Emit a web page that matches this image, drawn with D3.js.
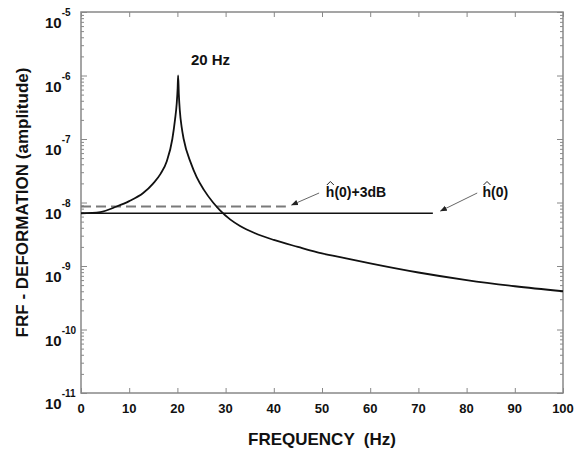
<!DOCTYPE html>
<html>
<head>
<meta charset="utf-8">
<script src="https://cdn.jsdelivr.net/npm/d3@7"></script>
<style>
  body { margin: 0; background: #fff; }
  text { font-family: "Liberation Sans", Arial, sans-serif; font-weight: bold; fill: #111; }
</style>
</head>
<body>
<svg width="582" height="449"></svg>
<script>
// FRF amplitude
let freq = [0, 4, 7.4, 10, 12.9, 15, 16.5, 17.8, 18.95, 19.5, 19.85, 20.05, 20.15, 20.3, 20.5, 20.9, 21.3, 22.8, 24, 25.5, 27.4, 28.8, 31, 33, 36, 40, 45, 50, 55, 60, 70, 80, 90, 100];
let amp = [6.76e-9, 7.08e-9, 8.65e-9, 1.05e-8, 1.41e-8, 2.0e-8, 2.82e-8, 4.47e-8, 1.0e-7, 2.0e-7, 3.55e-7, 6.3e-7, 1.0e-6, 5.0e-7, 2.82e-7, 1.51e-7, 1.0e-7, 4.17e-8, 2.51e-8, 1.58e-8, 1.0e-8, 7.59e-9, 5.37e-9, 4.27e-9, 3.31e-9, 2.57e-9, 2.0e-9, 1.58e-9, 1.32e-9, 1.1e-9, 7.9e-10, 6.0e-10, 4.8e-10, 4.0e-10];

// reference levels: h(0) and h(0)+3dB
let refNames = ["h0", "h0_3dB"];
let refLevels = [6.76e-9, 8.65e-9];
let refEnds = [73, 42.5];

let xTicks = [0, 10, 20, 30, 40, 50, 60, 70, 80, 90, 100];
let yExps = [-11, -10, -9, -8, -7, -6, -5];

let svg = d3.select("svg"),
    margin = {top: 12, right: 19, bottom: 56, left: 81},
    width = +svg.attr("width") - margin.left - margin.right,
    height = +svg.attr("height") - margin.top - margin.bottom;

let x = d3.scaleLinear().domain([0, 100]).range([margin.left, margin.left + width]);
let y = d3.scaleLog().domain([1e-11, 1e-5]).range([margin.top + height, margin.top]);

let axisColor = "#888";

// minor log ticks
let minor = [];
yExps.slice(0, -1).forEach(function(e) {
  for (let k = 2; k <= 9; k++) minor.push(k * Math.pow(10, e));
});
let majorY = yExps.map(function(e) { return Math.pow(10, e); });

function styleAxis(g) {
  g.select(".domain").remove();
  g.selectAll("line").attr("stroke", axisColor).attr("stroke-width", 1);
}

// left / right ticks (inward)
svg.append("g").attr("transform", "translate(" + x(0) + ",0)")
  .call(d3.axisLeft(y).tickValues(minor).tickSize(-3).tickFormat(""))
  .call(styleAxis);
svg.append("g").attr("transform", "translate(" + x(0) + ",0)")
  .call(d3.axisLeft(y).tickValues(majorY).tickSize(-6).tickFormat(""))
  .call(styleAxis);
svg.append("g").attr("transform", "translate(" + x(100) + ",0)")
  .call(d3.axisRight(y).tickValues(minor).tickSize(-3).tickFormat(""))
  .call(styleAxis);
svg.append("g").attr("transform", "translate(" + x(100) + ",0)")
  .call(d3.axisRight(y).tickValues(majorY).tickSize(-6).tickFormat(""))
  .call(styleAxis);
// bottom / top ticks
svg.append("g").attr("transform", "translate(0," + y(1e-11) + ")")
  .call(d3.axisBottom(x).tickValues(xTicks).tickSize(-5).tickFormat(""))
  .call(styleAxis);
svg.append("g").attr("transform", "translate(0," + y(1e-5) + ")")
  .call(d3.axisTop(x).tickValues(xTicks).tickSize(-5).tickFormat(""))
  .call(styleAxis);

// frame
svg.append("rect")
  .attr("x", x(0)).attr("y", y(1e-5))
  .attr("width", x(100) - x(0)).attr("height", y(1e-11) - y(1e-5))
  .attr("fill", "none").attr("stroke", axisColor).attr("stroke-width", 1.5);

// x tick labels
svg.append("g").selectAll("text")
  .data(xTicks).enter().append("text")
  .attr("x", function(d) { return x(d); })
  .attr("y", y(1e-11) + 20)
  .attr("text-anchor", "middle")
  .style("font-size", "13px")
  .text(function(d) { return d; });

// y tick labels 10^e
let yl = svg.append("g").selectAll("text")
  .data(yExps).enter().append("text")
  .attr("x", x(0) - 36)
  .attr("y", function(d) { return y(Math.pow(10, d)) + 16; })
  .style("font-size", "15px");
yl.append("tspan").text("10");
yl.append("tspan").attr("dy", -12).style("font-size", "10px").text(function(d) { return "-" + Math.abs(d); });

// axis titles
svg.append("text")
  .attr("x", (x(0) + x(100)) / 2)
  .attr("y", 445)
  .attr("text-anchor", "middle")
  .attr("xml:space", "preserve")
  .style("font-size", "17px")
  .style("white-space", "pre")
  .text("FREQUENCY  (Hz)");
svg.append("text")
  .attr("transform", "translate(28," + (y(1e-5) + y(1e-11)) / 2 + ") rotate(-90)")
  .attr("text-anchor", "middle")
  .style("font-size", "17px")
  .text("FRF - DEFORMATION (amplitude)");

// reference lines
svg.append("g").selectAll("line")
  .data(refNames).enter().append("line")
  .attr("x1", x(0))
  .attr("x2", function(d, i) { return x(refEnds[i]); })
  .attr("y1", function(d, i) { return y(refLevels[i]); })
  .attr("y2", function(d, i) { return y(refLevels[i]); })
  .attr("stroke", function(d) { return d === "h0" ? "#111" : "#7a7a7a"; })
  .attr("stroke-width", function(d) { return d === "h0" ? 1.6 : 1.8; })
  .attr("stroke-dasharray", function(d) { return d === "h0" ? null : "10,5"; });

// FRF curve
let line = d3.line()
  .x(function(d) { return x(d); })
  .y(function(d, i) { return y(amp[i]); })
  .curve(d3.curveMonotoneX);
svg.append("path")
  .attr("d", line(freq))
  .attr("fill", "none")
  .attr("stroke", "#111")
  .attr("stroke-width", 1.8);

// annotations
svg.append("defs").append("marker")
  .attr("id", "arr").attr("viewBox", "0 0 10 10")
  .attr("refX", 9).attr("refY", 5)
  .attr("markerWidth", 7).attr("markerHeight", 7)
  .attr("orient", "auto")
  .append("path").attr("d", "M0,1 L10,5 L0,9 Z").attr("fill", "#222");

let notes = [
  {text: "h(0)+3dB", tx: 50.8, lx: 49.4, ax: 43.7, ay: 205},
  {text: "h(0)", tx: 83.3, lx: 82.2, ax: 74.6, ay: 211}
];
notes.forEach(function(n) {
  svg.append("line")
    .attr("x1", x(n.lx)).attr("y1", 193)
    .attr("x2", x(n.ax)).attr("y2", n.ay)
    .attr("stroke", "#666").attr("stroke-width", 1)
    .attr("marker-end", "url(#arr)");
  svg.append("text")
    .attr("x", x(n.tx)).attr("y", 197)
    .style("font-size", "14px")
    .text(n.text);
  // hat over the h
  let hx = x(n.tx);
  svg.append("path")
    .attr("d", "M" + (hx + 1) + ",185 L" + (hx + 4.5) + ",181.5 L" + (hx + 8) + ",185")
    .attr("fill", "none").attr("stroke", "#222").attr("stroke-width", 1);
});

svg.append("text")
  .attr("x", x(22.8)).attr("y", 65)
  .style("font-size", "15px")
  .text("20 Hz");
</script>
</body>
</html>
